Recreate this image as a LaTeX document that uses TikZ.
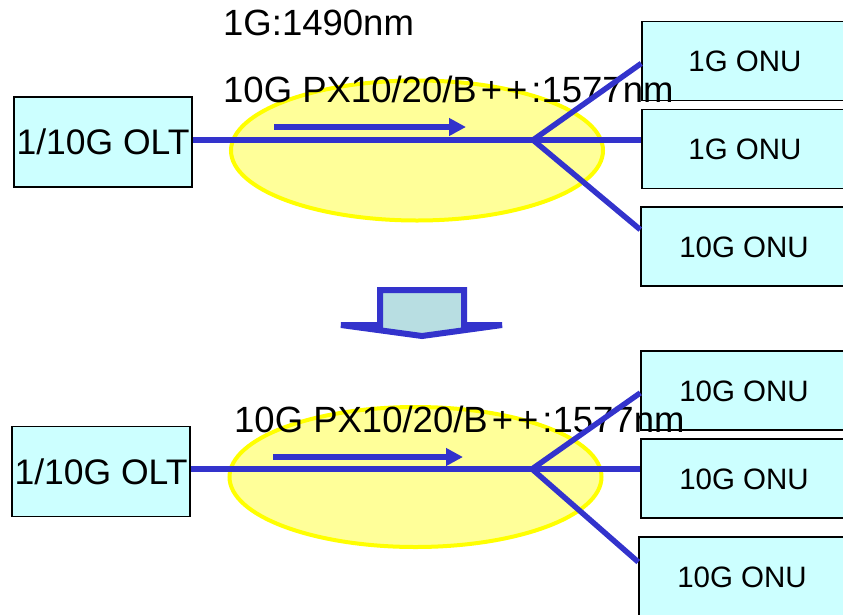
\documentclass[tikz,border=0pt]{standalone}
\usepackage{fontspec}
\setmainfont{Liberation Sans}
\usetikzlibrary{shapes.geometric,arrows.meta,calc}
\definecolor{fib}{RGB}{51,51,204}
\definecolor{boxc}{RGB}{204,255,255}
\definecolor{yel}{RGB}{255,255,0}
\definecolor{yelf}{RGB}{255,255,153}
\definecolor{arrf}{RGB}{184,222,226}
\newcommand{\pxlabel}{10G PX10/20/B\kern4pt+\kern4pt+\kern4pt:1577nm}
\begin{document}
\begin{tikzpicture}[x=1pt,y=-1pt,
  olt/.style={draw=black, line width=1.5pt, fill=boxc, minimum width=178pt, minimum height=90pt, inner sep=0pt, font=\fontsize{35.5}{36}\selectfont, text height=25.5pt, text depth=0pt},
  onu/.style={draw=black, line width=1.5pt, fill=boxc, minimum width=206pt, minimum height=79pt, inner sep=0pt, font=\fontsize{29.5}{30}\selectfont, text height=21pt, text depth=0pt},
  cloud/.style={ellipse, draw=yel, fill=yelf, line width=4pt, minimum width=372pt, minimum height=140pt, inner sep=0pt},
  lbl/.style={font=\fontsize{36.5}{37}\selectfont, inner sep=0pt, anchor=base west},
  fiber/.style={draw=fib, line width=5.5pt, line join=miter},
  flow/.style={draw=fib, line width=6pt, -{Triangle[length=17pt,width=17pt]}},
  bigarrow/.style={draw=fib, fill=arrf, line width=6pt, line join=miter}]
\useasboundingbox (0,0) rectangle (843,614);
% ---------- top ----------
\node[cloud] (c1) at (417,150.5) {};
\node[olt] (olt1) at (103,142) {1/10G OLT};
\node[onu] (o11) at (745,61) {1G ONU};
\node[onu] (o12) at (745,149) {1G ONU};
\node[onu] (o13) at (744,246.5) {10G ONU};
\node[lbl] (t1) at (223,35) {1G:1490nm};
\node[lbl] (t2) at (223,102) {\pxlabel};
\coordinate (s1) at (533,140);
\draw[fiber] (olt1.east |- s1) -- (s1) -- (s1 -| o12.west);
\draw[fiber] ($(o11.north west)!0.53!(o11.south west)$) -- (s1) -- ($(o13.north west)!0.29!(o13.south west)$);
\coordinate (a1s) at (274,127);
\coordinate (a1e) at (466,127);
\draw[flow] (a1s) -- (a1e);
% ---------- block arrow ----------
\draw[bigarrow] (380,290) -- (464,290) -- (464,325) -- (502,325) -- (422,336) -- (341,325) -- (380,325) -- cycle;
% ---------- bottom ----------
\node[cloud] (c2) at (415.5,477) {};
\node[olt] (olt2) at (101,471.5) {1/10G OLT};
\node[onu] (o21) at (744,390.5) {10G ONU};
\node[onu] (o22) at (744,478.5) {10G ONU};
\node[onu] (o23) at (742,576.5) {10G ONU};
\node[lbl] (t3) at (234,432) {\pxlabel};
\coordinate (s2) at (532,469);
\draw[fiber] (olt2.east |- s2) -- (s2) -- (s2 -| o22.west);
\draw[fiber] ($(o21.north west)!0.53!(o21.south west)$) -- (s2) -- ($(o23.north west)!0.32!(o23.south west)$);
\coordinate (a2s) at (273,457);
\coordinate (a2e) at (463,457);
\draw[flow] (a2s) -- (a2e);
\end{tikzpicture}
\end{document}
